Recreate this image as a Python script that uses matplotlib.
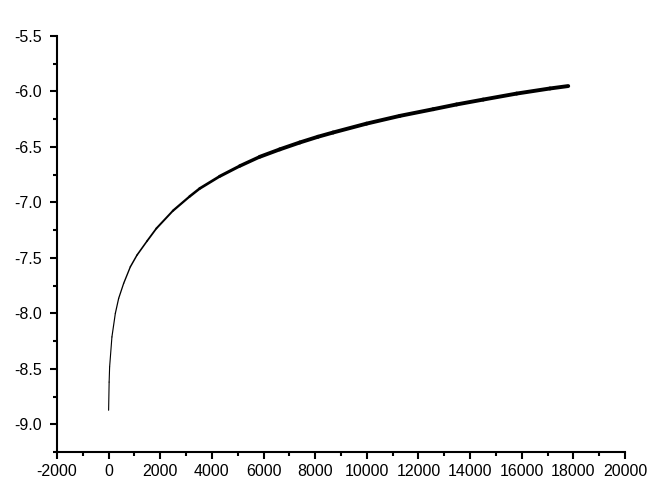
import numpy as np
import matplotlib.pyplot as plt
from matplotlib.collections import LineCollection
from matplotlib.ticker import MultipleLocator

plt.rcParams['font.family'] = ['Liberation Sans', 'DejaVu Sans']
plt.rcParams['axes.unicode_minus'] = False

# values
time = [0, 20, 39, 128, 260, 388, 581, 841, 1097, 1484, 1849, 2492, 3140,
        3527, 4302, 5078, 5853, 6628, 7403, 8112, 8694, 9988, 11279, 12570,
        13477, 14508, 15802, 17093, 17802]
signal = [-8.874, -8.62, -8.483, -8.213, -8.001, -7.866, -7.731, -7.581,
          -7.476, -7.350, -7.235, -7.075, -6.946, -6.875, -6.765, -6.672,
          -6.589, -6.522, -6.460, -6.408, -6.370, -6.290, -6.220, -6.160,
          -6.117, -6.073, -6.019, -5.973, -5.951]

fig = plt.figure(figsize=(6.68, 4.9), dpi=100)
ax = fig.add_axes([0.0853, 0.0776, 0.8503, 0.8489])

pts = np.column_stack([time, signal]).reshape(-1, 1, 2)
segs = np.concatenate([pts[:-1], pts[1:]], axis=1)
# the trace gets thicker (noisier) along x
widths = [0.8 + 2.0 * min(t / 6000, 1) for t in time[:-1]]
lc = LineCollection(segs, colors='black', linewidths=widths, capstyle='round',
                    joinstyle='round')
ax.add_collection(lc)

ax.set_xlim(-2000, 20000)
ax.set_ylim(-9.25, -5.5)
ax.xaxis.set_major_locator(MultipleLocator(2000))
ax.xaxis.set_minor_locator(MultipleLocator(1000))
ax.yaxis.set_major_locator(MultipleLocator(0.5))
ax.yaxis.set_minor_locator(MultipleLocator(0.25))
ax.yaxis.set_major_formatter(plt.FormatStrFormatter('%.1f'))

for s in ['top', 'right']:
    ax.spines[s].set_visible(False)
for s in ['left', 'bottom']:
    ax.spines[s].set_linewidth(1.5)

ax.tick_params(which='major', direction='out', length=5, width=1.5, labelsize=11.5)
ax.tick_params(which='minor', direction='out', length=3, width=1.5)
ax.tick_params(axis='y', pad=6)
ax.tick_params(axis='x', pad=4)

fig.savefig('out.png', dpi=100)
